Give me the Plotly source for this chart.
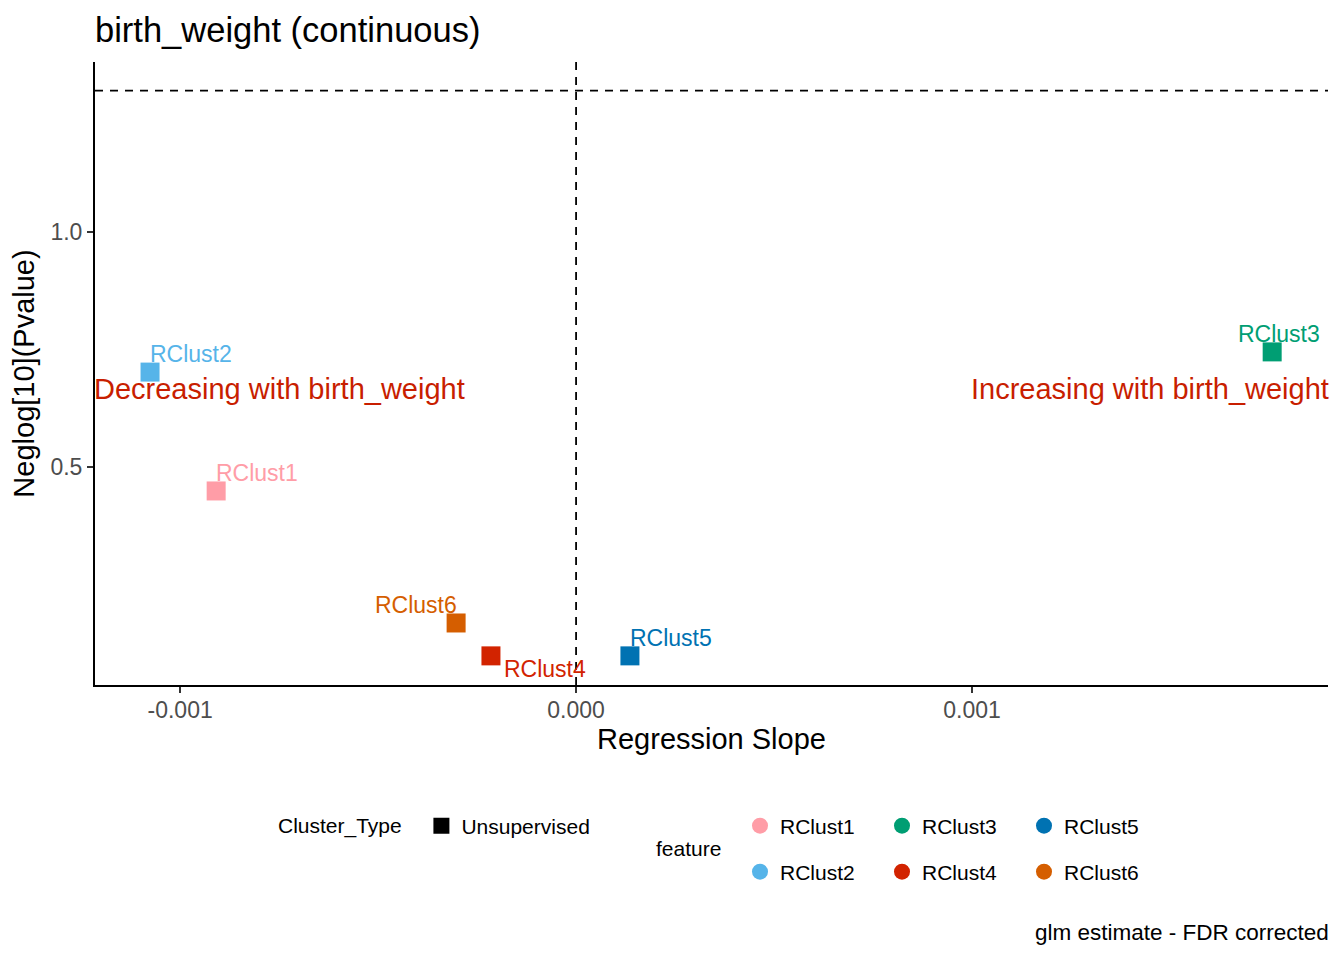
import plotly.graph_objects as go

# data
features = ["RClust1", "RClust2", "RClust3", "RClust4", "RClust5", "RClust6"]
slope = [-0.000909, -0.001076, 0.001758, -0.000215, 0.000136, -0.000303]
neglog_p = [0.449, 0.702, 0.745, 0.098, 0.098, 0.168]
feature_colors = ["#FF9DA7", "#56B4E9", "#009E73", "#D22300", "#0072B2", "#D55E00"]
cluster_types = ["Unsupervised"]
x_ticks = [-0.001, 0.0, 0.001]
x_tick_labels = ["-0.001", "0.000", "0.001"]
y_ticks = [0.5, 1.0]
y_tick_labels = ["0.5", "1.0"]
p_cut = 1.301  # -log10(0.05)
side_note_y = 0.666

# where each point label sits relative to its square (anchor, xshift, yshift)
label_pos = {
    "RClust1": ("left", -2, 18),
    "RClust2": ("left", -2, 18),
    "RClust3": ("center", 7, 18),
    "RClust4": ("left", 11, -13),
    "RClust5": ("left", -2, 18),
    "RClust6": ("right", 3, 18),
}

FONT = "Liberation Sans, Arial, sans-serif"
# page has an 8px body margin, so the figure is drawn 8px smaller and offset
W, H, PAD = 1336, 952, 8


def cx(px):
    return (px - PAD) / W


def cy(px):
    return 1 - (px - PAD) / H


fig = go.Figure()

for f, x, y, c in zip(features, slope, neglog_p, feature_colors):
    fig.add_trace(go.Scatter(
        x=[x], y=[y], mode="markers",
        marker=dict(symbol="square", size=19, color=c),
        showlegend=False, hoverinfo="skip",
    ))
    anchor, dx, dy = label_pos[f]
    fig.add_annotation(
        x=x, y=y, text=f, showarrow=False,
        xanchor=anchor, yanchor="middle", xshift=dx, yshift=dy,
        font=dict(family=FONT, size=23, color=c),
    )

# legend entries
fig.add_trace(go.Scatter(
    x=[None], y=[None], mode="markers", name=cluster_types[0],
    marker=dict(symbol="square", size=16, color="black"),
    legend="legend",
))
row_of = {0: "legend2", 2: "legend2", 4: "legend2", 1: "legend3", 3: "legend3", 5: "legend3"}
for i, (f, c) in enumerate(zip(features, feature_colors)):
    fig.add_trace(go.Scatter(
        x=[None], y=[None], mode="markers", name=f,
        marker=dict(symbol="circle", size=16, color=c),
        legend=row_of[i],
    ))

# reference lines
fig.add_hline(y=p_cut, line=dict(color="black", width=1.8, dash="8px,7px"))
fig.add_vline(x=0, line=dict(color="black", width=1.8, dash="8px,7px"))

fig.add_annotation(
    xref="paper", x=0, y=side_note_y, text="Decreasing with birth_weight",
    showarrow=False, xanchor="left", yanchor="middle", xshift=-3,
    font=dict(family=FONT, size=29, color="#C81E00"),
)
fig.add_annotation(
    xref="paper", x=1, y=side_note_y, text="Increasing with birth_weight",
    showarrow=False, xanchor="right", yanchor="middle", xshift=3,
    font=dict(family=FONT, size=29, color="#C81E00"),
)
fig.add_annotation(
    xref="paper", yref="paper", x=0.481, y=-0.263, text="feature",
    showarrow=False, xanchor="center", yanchor="middle",
    font=dict(family=FONT, size=21, color="black"),
)
fig.add_annotation(
    xref="paper", yref="paper", x=1, y=-0.398, text="glm estimate - FDR corrected",
    showarrow=False, xanchor="right", yanchor="middle", xshift=3,
    font=dict(family=FONT, size=22.5, color="black"),
)

legend_common = dict(
    orientation="h", xref="container", yref="container",
    yanchor="middle", xanchor="left", bgcolor="rgba(0,0,0,0)",
    font=dict(family=FONT, size=21, color="black"),
    itemsizing="trace",
)

fig.update_layout(
    width=W, height=H,
    paper_bgcolor="white", plot_bgcolor="white",
    margin=dict(l=87, r=16, t=54, b=275),
    font=dict(family=FONT, color="black"),
    title=dict(
        text="birth_weight (continuous)", x=cx(95), xanchor="left",
        xref="container", yref="container", y=cy(30), yanchor="middle",
        font=dict(family=FONT, size=34.5, color="black"),
    ),
    xaxis=dict(
        range=[-0.001215, 0.001899], tickvals=x_ticks, ticktext=x_tick_labels,
        showgrid=False, zeroline=False, showline=True, linecolor="black", linewidth=2,
        ticks="outside", ticklen=6, tickwidth=2, tickcolor="#333333",
        ticklabelstandoff=-3,
        tickfont=dict(family=FONT, size=23, color="#4D4D4D"),
        title=dict(text="Regression Slope", standoff=7,
                   font=dict(family=FONT, size=29, color="black")),
    ),
    yaxis=dict(
        range=[0.036, 1.362], tickvals=y_ticks, ticktext=y_tick_labels,
        showgrid=False, zeroline=False, showline=True, linecolor="black", linewidth=2,
        ticks="outside", ticklen=6, tickwidth=2, tickcolor="#333333",
        tickfont=dict(family=FONT, size=23, color="#4D4D4D"),
        title=dict(text="Neglog[10](Pvalue)", standoff=8,
                   font=dict(family=FONT, size=29, color="black")),
    ),
    legend=dict(legend_common, x=cx(276), y=cy(826),
                title=dict(text="Cluster_Type  ", side="left",
                           font=dict(family=FONT, size=21, color="black"))),
    legend2=dict(legend_common, x=cx(740), y=cy(826), entrywidth=97),
    legend3=dict(legend_common, x=cx(740), y=cy(872), entrywidth=97),
)

fig.write_html("out.html")
